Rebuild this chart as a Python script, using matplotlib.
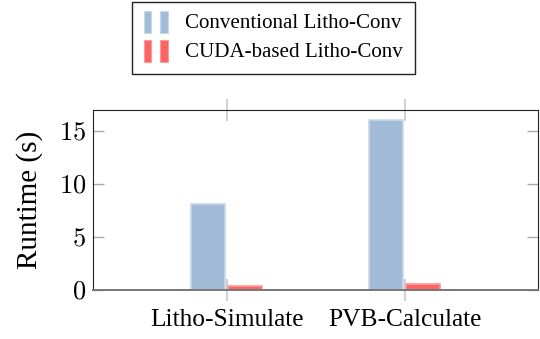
import numpy as np
import matplotlib.pyplot as plt
from matplotlib.patches import Rectangle
from matplotlib.legend_handler import HandlerBase

categories = ['Litho-Simulate', 'PVB-Calculate']
conventional = [8.15, 16.1]
cuda = [0.38, 0.57]
series_names = ['Conventional Litho-Conv', 'CUDA-based Litho-Conv']
yticks = [0, 5, 10, 15]

plt.rcParams['font.family'] = ['Liberation Serif', 'DejaVu Serif']
plt.rcParams['mathtext.fontset'] = 'cm'

blue_face, blue_edge = '#a2bbd7', '#c8d7e8'
red_face, red_edge = '#fd6464', '#fd9a9a'


class TwoBars(HandlerBase):
    def create_artists(self, legend, orig, xd, yd, width, height, fontsize, trans):
        patch = orig.patches[0]
        fc = patch.get_facecolor()
        ec = patch.get_edgecolor()
        w = width * 0.33
        arts = []
        for x in (0.0, width * 0.67):
            r = Rectangle((x - xd, -yd - height * 0.3), w, height * 1.5,
                          facecolor=fc, edgecolor=ec, lw=0.8, transform=trans)
            arts.append(r)
        return arts


fig = plt.figure(figsize=(5.4, 3.39), dpi=100)
ax = fig.add_axes([93 / 540, 1 - 290 / 339, 445 / 540, 180 / 339])

x = np.arange(len(categories))
w = 0.186
b1 = ax.bar(x - 0.104, conventional, w, color=blue_face, edgecolor=blue_edge, lw=1.2,
            label=series_names[0], zorder=2)
b2 = ax.bar(x + 0.104, cuda, w, color=red_face, edgecolor=red_edge, lw=1.2,
            label=series_names[1], zorder=2)

ax.set_xlim(-0.75, 1.75)
ax.set_ylim(0, 17)
ax.set_xticks(x)
ax.set_xticklabels(categories, fontsize=18.3)
ax.set_yticks(yticks)
ax.set_yticklabels([f'${v}$' for v in yticks], fontsize=19)
ax.tick_params(axis='y', direction='in', length=8, color='#aaaaaa',
               right=True, width=1, pad=5)
ax.tick_params(axis='x', direction='inout', length=16, color='#c8c8c8', top=True,
               width=1.2, pad=6)
ax.set_ylabel('Runtime (s)', fontsize=21, labelpad=11)
for s in ['top', 'left', 'right']:
    ax.spines[s].set_color('#222222')
ax.spines['bottom'].set_color('#777777')
ax.spines['bottom'].set_linewidth(1.4)
ax.spines['bottom'].set_zorder(3)

fig.legend(handles=[b1, b2], labels=series_names, loc='upper left',
           bbox_to_anchor=(132 / 540, 1 - 2 / 339), fontsize=15.1, fancybox=False,
           edgecolor='#222222', framealpha=1, handler_map={b1: TwoBars(), b2: TwoBars()},
           handlelength=1.15, handletextpad=0.85, borderpad=0.55, labelspacing=0.45,
           borderaxespad=0)
fig.legends[0].get_frame().set_linewidth(1.0)

fig.savefig('out.png', dpi=100)
